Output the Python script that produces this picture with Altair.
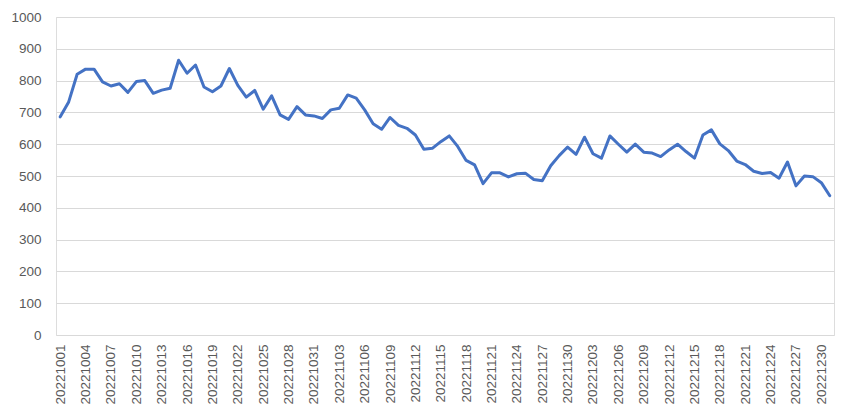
import altair as alt
import pandas as pd

# daily dates 20221001 .. 20221231
dates = [d.strftime("%Y%m%d") for d in pd.date_range("2022-10-01", "2022-12-31")]

values = [686, 733, 820, 836, 836, 796, 783, 790, 763, 797, 800, 760, 770, 776,
          864, 823, 849, 780, 765, 783, 838,
          785, 748, 769, 710, 752, 692, 678, 718, 692, 689, 681, 708, 713, 755,
          745, 708, 664, 647, 684, 659,
          650, 629, 584, 587, 608, 626, 593, 549, 535, 476, 510, 510, 497, 507,
          509, 489, 485, 532, 564, 591, 568,
          622, 570, 556, 626, 600, 575, 600, 575, 572, 561, 582, 600, 577, 556,
          629, 645, 601, 580, 547, 536,
          515, 508, 511, 493, 544, 469, 500, 498, 479, 438]

y_ticks = list(range(0, 1001, 100))
x_ticks = dates[::3]

df = pd.DataFrame({"date": dates, "value": values})

font = "Liberation Sans"
label_color = "#595959"
grid_color = "#D9D9D9"

chart = alt.Chart(df).mark_line(
    color="#4472C4", strokeWidth=3, strokeJoin="round", strokeCap="round"
).encode(
    x=alt.X("date:O", sort=dates, title=None,
            scale=alt.Scale(type="point", padding=0.5),
            axis=alt.Axis(values=x_ticks, labelAngle=-90, labelPadding=9,
                          ticks=False, tickSize=0, domain=False, grid=False,
                          labelFont=font, labelFontSize=13.5,
                          labelColor=label_color)),
    y=alt.Y("value:Q", title=None,
            scale=alt.Scale(domain=[0, 1000], nice=False),
            axis=alt.Axis(values=y_ticks, format="d", ticks=False, tickSize=0,
                          domain=False, grid=True, gridColor=grid_color,
                          gridWidth=1, labelPadding=15, labelFont=font,
                          labelFontSize=13.5, labelColor=label_color)),
).properties(
    width=778,
    height=318,
    autosize=alt.AutoSizeParams(type="none"),
    padding={"left": 48, "top": 9, "right": 7, "bottom": 76},
).configure_view(stroke=None).configure(background="white")

chart.save("out.html", embed_options={"renderer": "svg", "actions": False})
